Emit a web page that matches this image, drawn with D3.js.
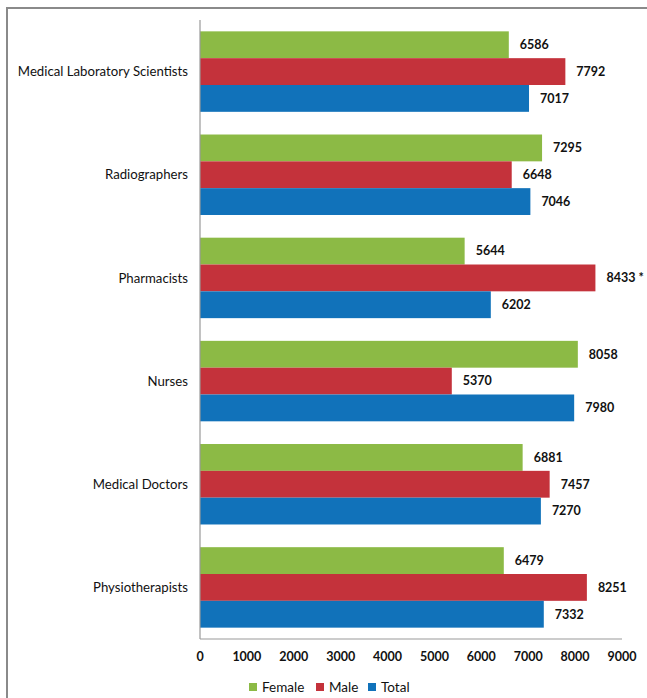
<!DOCTYPE html>
<html>
<head>
<meta charset="utf-8">
<script src="https://cdn.jsdelivr.net/npm/d3@7"></script>
<style>
  body { margin:0; background:#fff; }
  svg text { font-family: Lato, "Open Sans", sans-serif; fill:#111; }
</style>
</head>
<body>
<div id="chart"></div>
<script>
// professions, top to bottom
var categories = ["Medical Laboratory Scientists","Radiographers","Pharmacists","Nurses","Medical Doctors","Physiotherapists"];
var femaleVals = [6586, 7295, 5644, 8058, 6881, 6479];
var maleVals   = [7792, 6648, 8433, 5370, 7457, 8251];
var totalVals  = [7017, 7046, 6202, 7980, 7270, 7332];
var maleNotes  = ["", "", " *", "", "", ""];
var seriesNames = ["Female","Male","Total"];
var seriesCols  = ["#8cba45","#c4323b","#1172ba"];
var xTicks = [0,1000,2000,3000,4000,5000,6000,7000,8000,9000];

var W = 647, H = 698;
var gmargin = {left:200, top:20, right:25, bottom:59};

var svg = d3.select("#chart").append("svg").attr("width",W).attr("height",H);

// gray frame, only top and left show
svg.append("path").attr("d","M7,"+H+" V8 H"+W)
   .attr("fill","none").attr("stroke","#8a8a8a").attr("stroke-width",2);

var x = d3.scaleLinear().domain([0,9000]).range([gmargin.left, 622]);
var y = d3.scaleBand().domain(categories).range([gmargin.top, H-gmargin.bottom])
          .paddingInner(0.22).paddingOuter(0.11);
var ySub = d3.scaleBand().domain(seriesNames).range([0, y.bandwidth()]);

var rows = categories.map(function(c,i){
  return {cat:c, vals:[femaleVals[i], maleVals[i], totalVals[i]], notes:["", maleNotes[i], ""]};
});

var g = svg.append("g");
rows.forEach(function(r){
  seriesNames.forEach(function(s,k){
    var yy = y(r.cat) + ySub(s);
    g.append("rect")
      .attr("x", x(0)).attr("y", yy)
      .attr("width", x(r.vals[k]) - x(0)).attr("height", ySub.bandwidth())
      .attr("fill", seriesCols[k]);
    g.append("text")
      .attr("x", x(r.vals[k]) + 11).attr("y", yy + ySub.bandwidth()/2)
      .attr("dy","0.35em")
      .style("font-size","12.5px").style("font-weight","bold")
      .text(r.vals[k] + r.notes[k]);
  });
  g.append("text")
    .attr("x", 188).attr("y", y(r.cat) + y.bandwidth()/2)
    .attr("dy","0.35em").attr("text-anchor","end")
    .style("font-size","13.2px")
    .text(r.cat);
});

// axes
var axisY = H - gmargin.bottom;
svg.append("line").attr("x1",x(0)).attr("x2",x(0)).attr("y1",gmargin.top).attr("y2",axisY)
   .attr("stroke","#999").attr("stroke-width",1.2);
svg.append("line").attr("x1",x(0)).attr("x2",x(9000)).attr("y1",axisY).attr("y2",axisY)
   .attr("stroke","#999").attr("stroke-width",1.2);

svg.selectAll(".xtick").data(xTicks).enter().append("text")
   .attr("class","xtick")
   .attr("x", function(d){ return x(d); }).attr("y", axisY + 22)
   .attr("text-anchor","middle")
   .style("font-size","12.5px").style("font-weight","bold")
   .text(function(d){ return d; });

// legend
var legX = [249, 316, 368];
seriesNames.forEach(function(s,k){
  svg.append("rect").attr("x",legX[k]).attr("y",683).attr("width",8).attr("height",8).attr("fill",seriesCols[k]);
  svg.append("text").attr("x",legX[k]+13).attr("y",687).attr("dy","0.35em")
     .style("font-size","13.5px").text(s);
});
</script>
</body>
</html>
